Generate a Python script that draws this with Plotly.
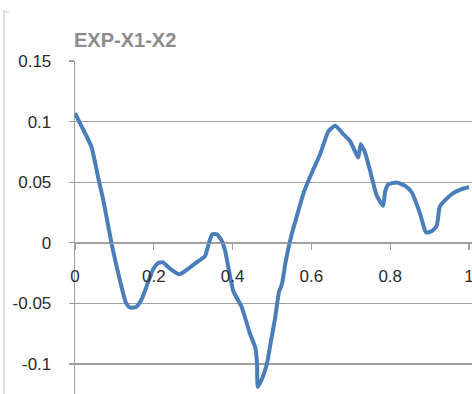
import plotly.graph_objects as go

# Data
x_vals = [0.0, 0.02, 0.042, 0.06, 0.072, 0.093, 0.114, 0.13, 0.14, 0.155, 0.17, 0.185,
          0.198, 0.21, 0.222, 0.24, 0.265, 0.285, 0.305, 0.33, 0.34, 0.348, 0.36, 0.372,
          0.381, 0.389, 0.402, 0.423, 0.444, 0.458, 0.462, 0.464, 0.475, 0.487, 0.498,
          0.508, 0.518, 0.522, 0.526, 0.535, 0.55, 0.563, 0.579, 0.596, 0.622, 0.643,
          0.66, 0.681, 0.698, 0.719, 0.725, 0.736, 0.749, 0.766, 0.782, 0.787, 0.795,
          0.816, 0.838, 0.855, 0.876, 0.891, 0.905, 0.918, 0.926, 0.942, 0.96, 0.98, 1.0]
y_vals = [0.107, 0.094, 0.079, 0.052, 0.035, -0.001, -0.031, -0.05, -0.0535, -0.053, -0.046, -0.033,
          -0.022, -0.017, -0.016, -0.021, -0.026, -0.022, -0.017, -0.011, 0.0, 0.007, 0.007, 0.002,
          -0.0066, -0.020, -0.040, -0.053, -0.075, -0.087, -0.100, -0.119, -0.112, -0.100, -0.080,
          -0.062, -0.040, -0.037, -0.033, -0.015, 0.007, 0.022, 0.040, 0.054, 0.073, 0.092,
          0.0965, 0.0897, 0.084, 0.0704, 0.0814, 0.0745, 0.0594, 0.0388, 0.0305, 0.042, 0.048,
          0.0498, 0.047, 0.0415, 0.0237, 0.0085, 0.0095, 0.014, 0.030, 0.036, 0.041, 0.044, 0.046]

x_ticks = [0, 0.2, 0.4, 0.6, 0.8, 1]
x_tick_labels = ["0", "0.2", "0.4", "0.6", "0.8", "1"]
y_ticks = [-0.1, -0.05, 0, 0.05, 0.1, 0.15]
y_tick_labels = ["-0.1", "-0.05", "0", "0.05", "0.1", "0.15"]
title_text = "EXP-X1-X2"

W, H = 472, 394
ML, MR, MT, MB = 75, 0, 61, 0
y_min, y_max = -0.1248, 0.15
x_min, x_max = 0.0, 1.0076

fig = go.Figure()
fig.add_trace(go.Scatter(
    x=x_vals, y=y_vals, mode="lines",
    line=dict(color="#4A7EBB", width=4, shape="spline", smoothing=0.5),
    hoverinfo="skip", showlegend=False,
))

tick_font = dict(family="Liberation Sans, Arial, sans-serif", size=17, color="#2b2b2b")

fig.update_layout(
    width=W, height=H,
    margin=dict(l=ML, r=MR, t=MT, b=MB, pad=0, autoexpand=False),
    paper_bgcolor="white", plot_bgcolor="white",
    showlegend=False,
    xaxis=dict(
        range=[x_min, x_max], tickvals=x_ticks, ticktext=x_tick_labels,
        showgrid=False, zeroline=False, automargin=False,
        showline=True, linecolor="#a0a0a0", linewidth=1.3,
        ticks="outside", ticklen=6, tickcolor="#a0a0a0", tickwidth=1.3,
        anchor="free", position=(0 - y_min) / (y_max - y_min),
        tickfont=tick_font, ticklabelstandoff=12, ticklabeloverflow="allow",
    ),
    yaxis=dict(
        range=[y_min, y_max], tickvals=y_ticks, ticktext=y_tick_labels,
        showgrid=True, gridcolor="#a0a0a0", gridwidth=1.3,
        zeroline=False, automargin=False,
        showline=True, linecolor="#a0a0a0", linewidth=1.3,
        ticks="outside", ticklen=5, tickcolor="#a0a0a0", tickwidth=1.3,
        tickfont=tick_font, ticklabelstandoff=14, ticklabeloverflow="allow",
    ),
)

plot_w = W - ML - MR
plot_h = H - MT - MB

fig.add_annotation(
    text="<b>%s</b>" % title_text, xref="paper", yref="paper",
    x=(72 - ML) / plot_w, y=1 + (MT - 40) / plot_h,
    xanchor="left", yanchor="middle", showarrow=False,
    font=dict(family="Liberation Sans, Arial, sans-serif", size=20, color="#8c8c8c"),
)

# Frame edge of the surrounding (cropped) chart box
fig.add_shape(type="line", xref="paper", yref="paper",
              x0=(4 - ML) / plot_w, x1=(4 - ML) / plot_w,
              y0=-0.05, y1=1 + (MT - 10) / plot_h,
              line=dict(color="#c8c8c8", width=1.2))
fig.add_shape(type="line", xref="paper", yref="paper",
              x0=(4 - ML) / plot_w, x1=(9 - ML) / plot_w,
              y0=1 + (MT - 12) / plot_h, y1=1 + (MT - 12) / plot_h,
              line=dict(color="#c8d4e4", width=1.2))

fig.write_html("out.html",
               config={"displayModeBar": False, "staticPlot": True},
               post_script="document.body.style.margin='0';document.body.style.overflow='hidden';")
